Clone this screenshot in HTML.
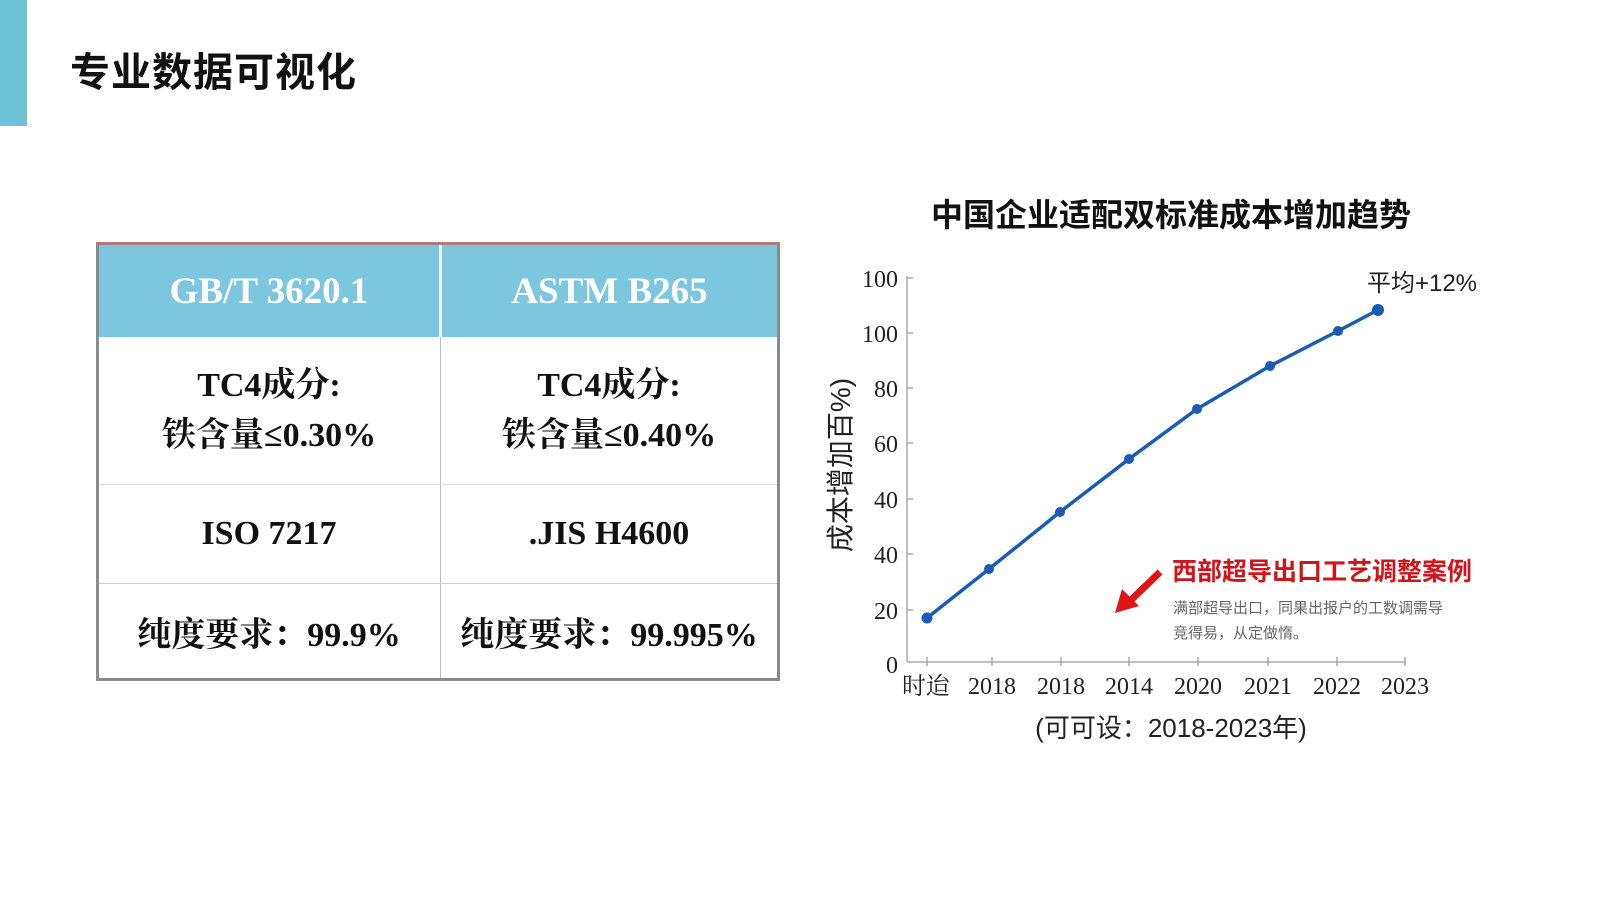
<!DOCTYPE html>
<html><head><meta charset="utf-8">
<style>
html,body{margin:0;padding:0;background:#fff;}
body{width:1600px;height:898px;position:relative;overflow:hidden;font-family:"Liberation Sans","Noto Sans CJK SC",sans-serif;}
.bar{position:absolute;left:0;top:0;width:27px;height:126px;background:#6cc3d5;}
.title{position:absolute;left:70px;top:40px;font-size:40px;font-weight:bold;color:#111;letter-spacing:1px;}
.tbl{position:absolute;left:96px;top:242px;width:678px;height:433px;border:3px solid #8a8a8a;border-top-color:#b07a7a;background:#fff;font-family:"Liberation Serif","Noto Serif CJK SC",serif;}
.cell{position:absolute;display:flex;align-items:center;justify-content:center;text-align:center;color:#111;font-weight:bold;}
.hd{background:#7cc7dd;color:#fff;font-size:37px;}
</style></head><body>
<div class="bar"></div>
<div class="title">专业数据可视化</div>

<div class="tbl">
  <div class="cell hd" style="left:0;top:0;width:340px;height:92px;">GB/T 3620.1</div>
  <div class="cell hd" style="left:343px;top:0;width:335px;height:92px;">ASTM B265</div>
  <div style="position:absolute;left:340px;top:0;width:3px;height:92px;background:#e8f4f8"></div>
  <div style="position:absolute;left:341px;top:92px;width:1px;height:341px;background:#bbb"></div>
  <div style="position:absolute;left:0;top:239px;width:678px;height:1px;background:#ddd"></div>
  <div style="position:absolute;left:0;top:338px;width:678px;height:1px;background:#ccc"></div>
  <div class="cell" style="left:0;top:92px;width:340px;height:147px;font-size:34px;line-height:50px;">TC4成分:<br>铁含量≤0.30%</div>
  <div class="cell" style="left:342px;top:92px;width:336px;height:147px;font-size:34px;line-height:50px;">TC4成分:<br>铁含量≤0.40%</div>
  <div class="cell" style="left:0;top:240px;width:340px;height:98px;font-size:34px;">ISO 7217</div>
  <div class="cell" style="left:342px;top:240px;width:336px;height:98px;font-size:34px;">.JIS H4600</div>
  <div class="cell" style="left:0;top:339px;width:340px;height:94px;font-size:34px;">纯度要求：99.9%</div>
  <div class="cell" style="left:342px;top:339px;width:336px;height:94px;font-size:34px;">纯度要求：99.995%</div>
</div>

<svg width="1600" height="898" style="position:absolute;left:0;top:0" xmlns="http://www.w3.org/2000/svg">
  <text x="1171" y="226" text-anchor="middle" font-family="Liberation Sans,Noto Sans CJK SC,sans-serif" font-size="32" font-weight="bold" fill="#111">中国企业适配双标准成本增加趋势</text>
  <g stroke="#999" stroke-width="1.2" fill="none">
    <line x1="907" y1="276" x2="907" y2="662"/>
    <line x1="907" y1="662" x2="1406" y2="662"/>
    <line x1="907" y1="278" x2="913" y2="278"/>
    <line x1="907" y1="333" x2="913" y2="333"/>
    <line x1="907" y1="388" x2="913" y2="388"/>
    <line x1="907" y1="443" x2="913" y2="443"/>
    <line x1="907" y1="499" x2="913" y2="499"/>
    <line x1="907" y1="554" x2="913" y2="554"/>
    <line x1="907" y1="610" x2="913" y2="610"/>
    <line x1="927" y1="657" x2="927" y2="666"/>
    <line x1="992" y1="657" x2="992" y2="666"/>
    <line x1="1061" y1="657" x2="1061" y2="666"/>
    <line x1="1129" y1="657" x2="1129" y2="666"/>
    <line x1="1198" y1="657" x2="1198" y2="666"/>
    <line x1="1268" y1="657" x2="1268" y2="666"/>
    <line x1="1337" y1="657" x2="1337" y2="666"/>
    <line x1="1405" y1="657" x2="1405" y2="666"/>
  </g>
  <g font-family="Liberation Serif,Noto Serif CJK SC,serif" font-size="24" fill="#222" text-anchor="end">
    <text x="898" y="287">100</text>
    <text x="898" y="342">100</text>
    <text x="898" y="397">80</text>
    <text x="898" y="452">60</text>
    <text x="898" y="508">40</text>
    <text x="898" y="563">40</text>
    <text x="898" y="619">20</text>
    <text x="898" y="673">0</text>
  </g>
  <g font-family="Liberation Serif,Noto Serif CJK SC,serif" font-size="24" fill="#222" text-anchor="middle">
    <text x="926" y="694">时迨</text>
    <text x="992" y="694">2018</text>
    <text x="1061" y="694">2018</text>
    <text x="1129" y="694">2014</text>
    <text x="1198" y="694">2020</text>
    <text x="1268" y="694">2021</text>
    <text x="1337" y="694">2022</text>
    <text x="1405" y="694">2023</text>
  </g>
  <text x="1171" y="737" text-anchor="middle" font-family="Liberation Sans,Noto Sans CJK SC,sans-serif" font-size="26" fill="#222">(可可设：2018-2023年)</text>
  <text transform="translate(850,465) rotate(-90)" text-anchor="middle" font-family="Liberation Sans,Noto Sans CJK SC,sans-serif" font-size="28" fill="#222">成本增加百%)</text>
  <text x="1422" y="291" text-anchor="middle" font-family="Liberation Sans,Noto Sans CJK SC,sans-serif" font-size="24" fill="#222">平均+12%</text>
  <polyline points="927,618 989,569 1060,512 1129,459 1197,409 1270,366 1338,331 1378,310" fill="none" stroke="#1a5bb5" stroke-width="3.5"/>
  <g fill="#1a5bb5">
    <circle cx="927" cy="618" r="5.5"/><circle cx="989" cy="569" r="5"/><circle cx="1060" cy="512" r="5"/>
    <circle cx="1129" cy="459" r="5"/><circle cx="1197" cy="409" r="5"/><circle cx="1270" cy="366" r="5"/>
    <circle cx="1338" cy="331" r="5"/><circle cx="1378" cy="310" r="6"/>
  </g>
  <line x1="1160" y1="572" x2="1128" y2="603" stroke="#e01515" stroke-width="7"/>
  <polygon points="1115,613 1122,589 1139,606" fill="#e01515"/>
  <text x="1172" y="580" font-family="Liberation Sans,Noto Sans CJK SC,sans-serif" font-size="25" font-weight="bold" fill="#d0141a">西部超导出口工艺调整案例</text>
  <text x="1173" y="613" font-family="Liberation Sans,Noto Sans CJK SC,sans-serif" font-size="15" fill="#666">满部超导出口，同果出报户的工数调需导</text>
  <text x="1173" y="638" font-family="Liberation Sans,Noto Sans CJK SC,sans-serif" font-size="15" fill="#666">竞得易，从定做惰。</text>
</svg>
</body></html>
